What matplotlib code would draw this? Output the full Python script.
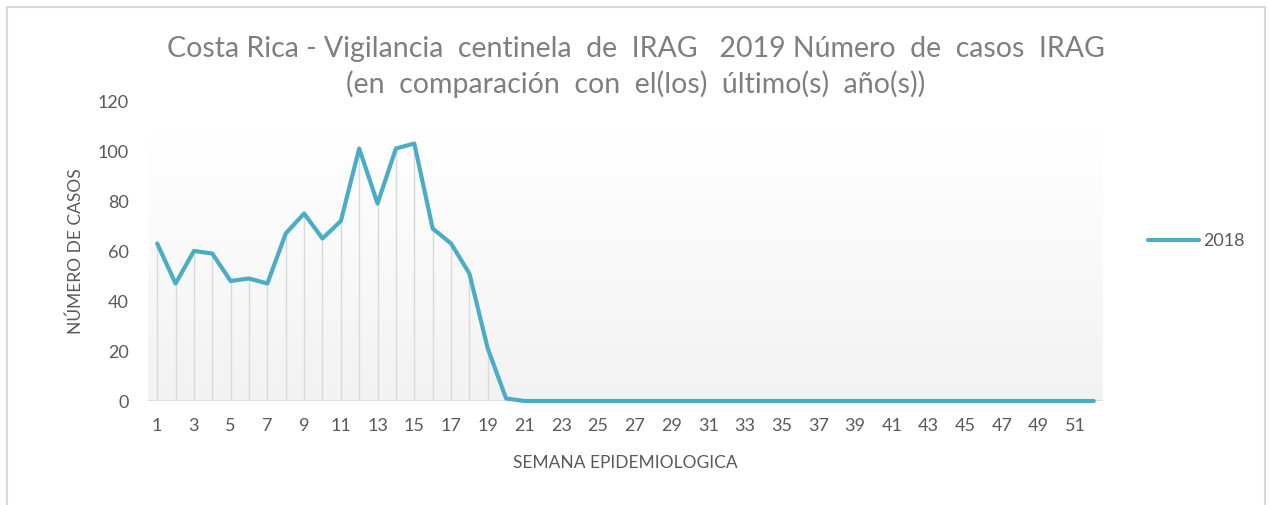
import numpy as np
import matplotlib
matplotlib.use("Agg")
import matplotlib.pyplot as plt
from matplotlib.colors import LinearSegmentedColormap

# -------------- D A T A ---------------------------------------
weeks = np.arange(1, 53)
casos_2018 = [63, 47, 60, 59, 48, 49, 47, 67, 75, 65,
              72, 101, 79, 101, 103, 69, 63, 51, 21, 1,
              0, 0, 0, 0, 0, 0, 0, 0, 0, 0,
              0, 0, 0, 0, 0, 0, 0, 0, 0, 0,
              0, 0, 0, 0, 0, 0, 0, 0, 0, 0,
              0, 0]
xtick_vals = list(range(1, 52, 2))
ytick_vals = [0, 20, 40, 60, 80, 100, 120]
serie_label = "2018"
titulo = ("Costa Rica - Vigilancia  centinela  de  IRAG   2019 Número  de  casos  IRAG\n"
          "(en  comparación  con  el(los)  último(s)  año(s))")

LINE_COLOR = "#4bacc6"
TEXT_GRAY = "#595959"
TITLE_GRAY = "#7f7f7f"

plt.rcParams['font.family'] = ['Lato', 'DejaVu Sans']

W, H = 1269, 505
fig = plt.figure(figsize=(W / 100, H / 100), dpi=100)

# outer chart border (left, top, right)
for xs, ys in [([7, 7], [505, 7]), ([7, 1265], [7, 7]), ([1265, 1265], [7, 505])]:
    fig.add_artist(plt.Line2D([x / W for x in xs], [1 - y / H for y in ys],
                              transform=fig.transFigure, color="#d9d9d9", lw=1.5))

left, right = 148 / W, 1103 / W
bottom, top = 1 - 401 / H, 1 - 101 / H
ax = fig.add_axes([left, bottom, right - left, top - bottom])
ax.set_xlim(0.5, 52.5)
ax.set_ylim(0, 120)

# gradient plot area
grad = LinearSegmentedColormap.from_list("g", ["#f2f2f2", "#ffffff"])
ax.imshow(np.linspace(0, 1, 256).reshape(-1, 1), cmap=grad, origin="lower",
          extent=[0.5, 52.5, -0.8, 107], aspect="auto", zorder=0)

ax.vlines(weeks, 0, casos_2018, color="#d9d9d9", lw=1, zorder=1)
ax.axhline(0, color="#d9d9d9", lw=1.2, zorder=1)
ax.plot(weeks, casos_2018, color=LINE_COLOR, lw=3, solid_capstyle="round",
        solid_joinstyle="round", label=serie_label, zorder=3, clip_on=False)

for s in ax.spines.values():
    s.set_visible(False)
ax.set_xticks(xtick_vals)
ax.set_xticklabels([str(v) for v in xtick_vals])
ax.set_yticks(ytick_vals)
ax.tick_params(length=0, colors=TEXT_GRAY, labelsize=13)
ax.tick_params(axis="x", pad=12)
ax.tick_params(axis="y", pad=14)
ax.set_facecolor("none")

ax.set_xlabel("SEMANA EPIDEMIOLOGICA", color=TEXT_GRAY, fontsize=12.5, labelpad=15)
ax.set_ylabel("NÚMERO DE CASOS", color=TEXT_GRAY, fontsize=12.5, labelpad=10)

fig.text(636 / W, 1 - 67 / H, titulo, ha="center", va="center", color=TITLE_GRAY,
         fontsize=20.5, linespacing=1.4)

ax.legend(loc="center left", bbox_to_anchor=(1148 / W, 1 - 241 / H),
          bbox_transform=fig.transFigure, frameon=False, fontsize=13,
          handlelength=2.8, handletextpad=0.25, labelcolor=TEXT_GRAY,
          borderpad=0, borderaxespad=0)

fig.savefig("out.png", dpi=100)
